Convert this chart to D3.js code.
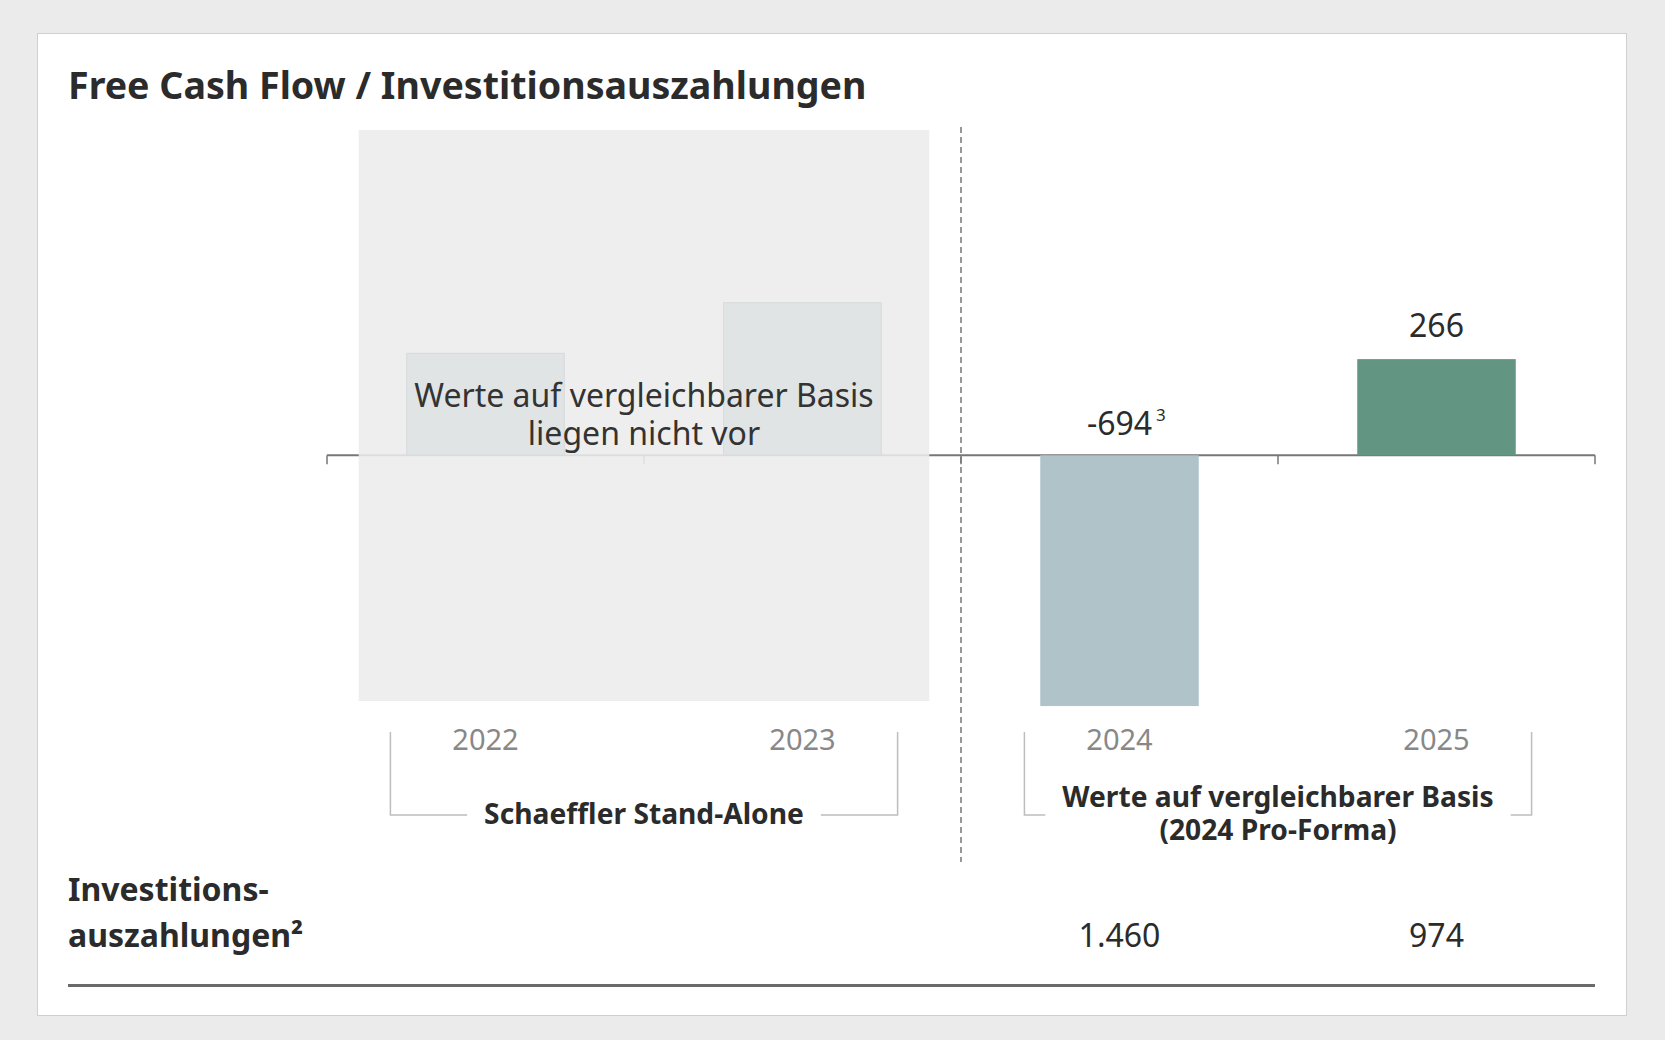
<!DOCTYPE html>
<html><head><meta charset="utf-8">
<script src="https://cdn.jsdelivr.net/npm/d3@7"></script>
<style>
html,body{margin:0;padding:0;background:#ebebeb;}
svg{display:block;font-family:"Noto Sans",sans-serif;}
</style></head>
<body>
<svg id="chart" width="1665" height="1040"></svg>
<script>
// ---- data ----
const title = "Free Cash Flow / Investitionsauszahlungen";
const years = ["2022", "2023", "2024", "2025"];
const ghostYears = ["2022", "2023"];
const ghostValues = [282, 422];           // placeholder bars (no comparable values)
const fcfYears = ["2024", "2025"];
const fcfValues = [-694, 266];
const fcfFootnotes = ["3", ""];
const capexYears = ["2024", "2025"];
const capexLabels = ["1.460", "974"];
const groupLabels = [["Schaeffler Stand-Alone"], ["Werte auf vergleichbarer Basis", "(2024 Pro-Forma)"]];
const ghostText = ["Werte auf vergleichbarer Basis", "liegen nicht vor"];
const capexTitle = ["Investitions-", "auszahlungen²"];

const svg = d3.select("#chart");
// card
svg.append("rect").attr("x", 37.5).attr("y", 33.5).attr("width", 1589).attr("height", 982)
  .attr("fill", "#fff").attr("stroke", "#cfcfcf").attr("stroke-width", 1);

svg.append("text").attr("x", 68).attr("y", 99).text(title)
  .attr("font-size", 37.6).attr("font-weight", 700).attr("fill", "#2b2b2b");

const x = d3.scaleBand().domain(years).range([327, 1595]).paddingInner(0.5).paddingOuter(0.25);
const step = x.step();
const y = d3.scaleLinear().domain([-680, 900]).range([701, 130]);
const bound = i => x.range()[0] + i * step;

// axis line + ticks
const axisG = svg.append("g");
axisG.append("line").attr("x1", bound(0)).attr("x2", bound(4)).attr("y1", y(0)).attr("y2", y(0))
  .attr("stroke", "#777").attr("stroke-width", 2);
axisG.selectAll("line.tick").data(d3.range(5)).join("line").attr("class", "tick")
  .attr("x1", d => bound(d)).attr("x2", d => bound(d))
  .attr("y1", y(0)).attr("y2", y(0) + 9).attr("stroke", "#777").attr("stroke-width", 1.5);

// gray panel (no comparable values)
svg.append("rect").attr("x", bound(0) + 0.1 * step).attr("y", y(900))
  .attr("width", bound(2) - bound(0) - 0.2 * step).attr("height", y(-680) - y(900))
  .attr("fill", "#ececec").attr("opacity", 0.88);

svg.selectAll("rect.ghost").data(ghostYears.map((d, i) => ({ y: d, v: ghostValues[i] })))
  .join("rect").attr("class", "ghost")
  .attr("x", d => x(d.y) + 0.5).attr("width", x.bandwidth() - 1)
  .attr("y", d => y(d.v)).attr("height", d => y(0) - y(d.v))
  .attr("fill", "#e0e4e5").attr("stroke", "#d6dadb").attr("stroke-width", 1);

const gcx = (bound(0) + bound(2)) / 2;
svg.append("text").attr("text-anchor", "middle").attr("font-size", 32).attr("fill", "#333")
  .selectAll("tspan").data(ghostText).join("tspan")
  .attr("x", gcx).attr("y", (d, i) => 407 + i * 38).text(d => d);

// dashed separator
svg.append("line").attr("x1", bound(2)).attr("x2", bound(2)).attr("y1", 127).attr("y2", 862)
  .attr("stroke", "#777").attr("stroke-width", 1.5).attr("stroke-dasharray", "6,4");

// FCF bars
const colors = { "2024": "#b0c3c9", "2025": "#629582" };
const fcf = fcfYears.map((d, i) => ({ y: d, v: fcfValues[i], fn: fcfFootnotes[i] }));
svg.selectAll("rect.bar").data(fcf).join("rect").attr("class", "bar")
  .attr("x", d => x(d.y)).attr("width", x.bandwidth())
  .attr("y", d => y(Math.max(0, d.v))).attr("height", d => Math.abs(y(d.v) - y(0)))
  .attr("fill", d => colors[d.y]);

fcf.forEach(d => {
  const cx = x(d.y) + x.bandwidth() / 2;
  const ly = d.v >= 0 ? y(d.v) - 22 : y(0) - 20;
  const t = svg.append("text").attr("x", cx).attr("y", ly).attr("text-anchor", "middle")
    .attr("font-size", 32).attr("fill", "#2b2b2b").text(d3.format("d")(d.v).replace("−", "-"));
  if (d.fn) {
    const w = t.node().getComputedTextLength();
    svg.append("text").attr("x", cx + w / 2 + 4).attr("y", ly - 14).attr("font-size", 17)
      .attr("fill", "#2b2b2b").text(d.fn);
  }
});

// year labels
svg.selectAll("text.year").data(years).join("text").attr("class", "year")
  .attr("x", d => x(d) + x.bandwidth() / 2).attr("y", 750).attr("text-anchor", "middle")
  .attr("font-size", 29).attr("fill", "#888").text(d => d);

// group brackets
groupLabels.forEach((lines, gi) => {
  const x0 = bound(gi * 2) + 0.2 * step, x1 = bound(gi * 2 + 2) - 0.2 * step;
  const cx = (x0 + x1) / 2, by = 815, top = 732;
  const g = svg.append("g");
  const baseY = lines.length === 1 ? 824 : 807;
  const t = g.append("text").attr("text-anchor", "middle").attr("font-size", 28.2)
    .attr("font-weight", 700).attr("fill", "#2b2b2b");
  t.selectAll("tspan").data(lines).join("tspan").attr("x", cx)
    .attr("y", (d, i) => baseY + i * 33).text(d => d);
  const w = t.select("tspan").node().getComputedTextLength();
  const gap = 17;
  const path = d3.path();
  path.moveTo(x0, top); path.lineTo(x0, by); path.lineTo(cx - w / 2 - gap, by);
  path.moveTo(cx + w / 2 + gap, by); path.lineTo(x1, by); path.lineTo(x1, top);
  g.append("path").attr("d", path.toString()).attr("fill", "none")
    .attr("stroke", "#bdbdbd").attr("stroke-width", 1.5);
});

// capex row
svg.append("text").attr("font-size", 32).attr("font-weight", 700).attr("fill", "#2b2b2b")
  .selectAll("tspan").data(capexTitle).join("tspan")
  .attr("x", 68).attr("y", (d, i) => 901 + i * 46).text(d => d);
svg.selectAll("text.capex").data(capexYears.map((d, i) => ({ y: d, l: capexLabels[i] })))
  .join("text").attr("class", "capex")
  .attr("x", d => x(d.y) + x.bandwidth() / 2).attr("y", 947).attr("text-anchor", "middle")
  .attr("font-size", 32).attr("fill", "#2b2b2b").text(d => d.l);

svg.append("line").attr("x1", 68).attr("x2", 1595).attr("y1", 985.5).attr("y2", 985.5)
  .attr("stroke", "#6a6a6a").attr("stroke-width", 3);
</script>
</body></html>
